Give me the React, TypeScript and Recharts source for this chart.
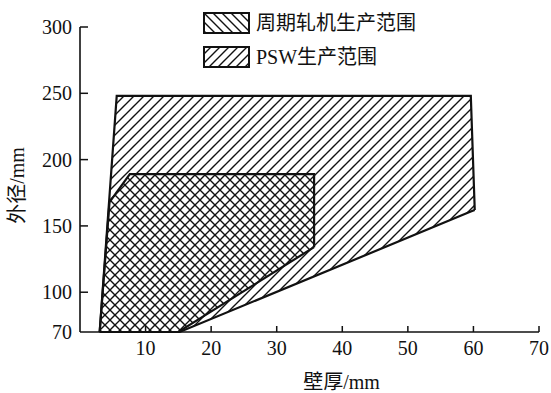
import React from 'react';
import { ComposedChart, Area, XAxis, YAxis, Legend } from 'recharts';

// 壁厚 (mm) / 外径 (mm) polygon vertices
const pswX = [3, 5.6, 15.2, 59.6, 60.2];
const pswLow = [70, 70, 70, 160.8, 162];
const pswHigh = [70, 248, 248, 248, 162];

const pilgerX = [3, 4.5, 7.6, 15, 35.7, 35.7];
const pilgerLow = [70, 70, 70, 70, 134, 134];
const pilgerHigh = [70, 168, 189, 189, 189, 134];

const xTicks = [10, 20, 30, 40, 50, 60, 70];
const yTicks = [70, 100, 150, 200, 250, 300];

const legendItems = [
  { name: '周期轧机生产范围', pattern: 'lgBack' },
  { name: 'PSW生产范围', pattern: 'lgFwd' },
];

const pswRows = pswX.map((x, i) => ({ x, range: [pswLow[i], pswHigh[i]] }));
const pilgerRows = pilgerX.map((x, i) => ({ x, range: [pilgerLow[i], pilgerHigh[i]] }));

const FONT = "'Liberation Serif', 'Noto Sans CJK SC', serif";

const HatchDefs = ({ fwdId, backId, size = 10 }: { fwdId: string; backId: string; size?: number }) => (
  <defs>
    <pattern id={fwdId} patternUnits="userSpaceOnUse" width={size} height={size}>
      <path
        d={`M0,${size} L${size},0 M-2,2 L2,-2 M${size - 2},${size + 2} L${size + 2},${size - 2}`}
        stroke="#111"
        strokeWidth={1.4}
      />
    </pattern>
    <pattern id={backId} patternUnits="userSpaceOnUse" width={size} height={size}>
      <path
        d={`M0,0 L${size},${size} M-2,${size - 2} L2,${size + 2} M${size - 2},-2 L${size + 2},2`}
        stroke="#111"
        strokeWidth={1.4}
      />
    </pattern>
  </defs>
);

const LegendBox = () => (
  <div style={{ fontFamily: FONT, fontSize: 20, color: '#111' }}>
    {legendItems.map((item, i) => (
      <div key={item.name} style={{ display: 'flex', alignItems: 'center', height: 22, marginBottom: i === 0 ? 12 : 0 }}>
        <svg width={47} height={22} style={{ display: 'block' }}>
          {i === 0 && <HatchDefs fwdId="lgFwd" backId="lgBack" size={9} />}
          <rect x={1} y={1} width={45} height={20} fill={`url(#${item.pattern})`} stroke="#111" strokeWidth={2} />
        </svg>
        <span style={{ marginLeft: 6, lineHeight: '22px' }}>{item.name}</span>
      </div>
    ))}
  </div>
);

// ticks point inward, into the plot
const XTick = (props: any) => {
  const { x, y, payload } = props;
  return (
    <g>
      <path d={`M${x},${y} L${x},${y - 6}`} stroke="#111" strokeWidth={1.5} fill="none" />
      <text x={x} y={y + 16} textAnchor="middle" dominantBaseline="central"
        fontFamily={FONT} fontSize={20} fill="#111">
        {payload.value}
      </text>
    </g>
  );
};

const YTick = (props: any) => {
  const { x, y, payload } = props;
  return (
    <g>
      {payload.value !== 70 && <path d={`M${x},${y} L${x + 8},${y}`} stroke="#111" strokeWidth={1.5} fill="none" />}
      <text x={x - 8} y={y} textAnchor="end" dominantBaseline="central"
        fontFamily={FONT} fontSize={20} fill="#111">
        {payload.value}
      </text>
    </g>
  );
};

const XTitle = (props: any) => {
  const { x, y, width } = props.viewBox;
  return (
    <text x={x + width / 2 + 32} y={y + 50} textAnchor="middle" dominantBaseline="central"
      fontFamily={FONT} fontSize={20} fill="#111">
      壁厚/mm
    </text>
  );
};

const YTitle = (props: any) => {
  const { x, y, height } = props.viewBox;
  const cx = x + 17;
  const cy = y + height / 2 + 6;
  return (
    <text x={cx} y={cy} transform={`rotate(-90 ${cx} ${cy})`} textAnchor="middle" dominantBaseline="central"
      fontFamily={FONT} fontSize={20} fill="#111">
      外径/mm
    </text>
  );
};

export default function App() {
  return (
    <div style={{ position: 'absolute', left: 0, top: 0, background: '#fff' }}>
      <ComposedChart width={551} height={393} margin={{ top: 27, right: 12, left: 0, bottom: 0 }}>
        <HatchDefs fwdId="fwd" backId="back" />
        <XAxis
          type="number"
          dataKey="x"
          domain={[0, 70]}
          ticks={xTicks}
          height={61}
          axisLine={{ stroke: '#111', strokeWidth: 1.6 }}
          tickLine={false}
          tickSize={0}
          tickMargin={0}
          tick={<XTick />}
          label={<XTitle />}
        />
        <YAxis
          type="number"
          domain={[70, 300]}
          ticks={yTicks}
          interval={0}
          width={80}
          axisLine={{ stroke: '#111', strokeWidth: 1.6 }}
          tickLine={false}
          tickSize={0}
          tickMargin={0}
          tick={<YTick />}
          label={<YTitle />}
        />
        <Legend
          layout="vertical"
          align="center"
          verticalAlign="middle"
          content={() => <LegendBox />}
          wrapperStyle={{ top: 12, left: 203, width: 'auto' }}
        />
        <Area
          data={pswRows}
          dataKey="range"
          name="PSW生产范围"
          type="linear"
          stroke="#111"
          strokeWidth={2.2}
          fill="url(#fwd)"
          fillOpacity={1}
          dot={false}
          activeDot={false}
          isAnimationActive={false}
        />
        <Area
          data={pilgerRows}
          dataKey="range"
          name="周期轧机生产范围"
          type="linear"
          stroke="#111"
          strokeWidth={2.2}
          fill="url(#back)"
          fillOpacity={1}
          dot={false}
          activeDot={false}
          isAnimationActive={false}
        />
      </ComposedChart>
    </div>
  );
}
